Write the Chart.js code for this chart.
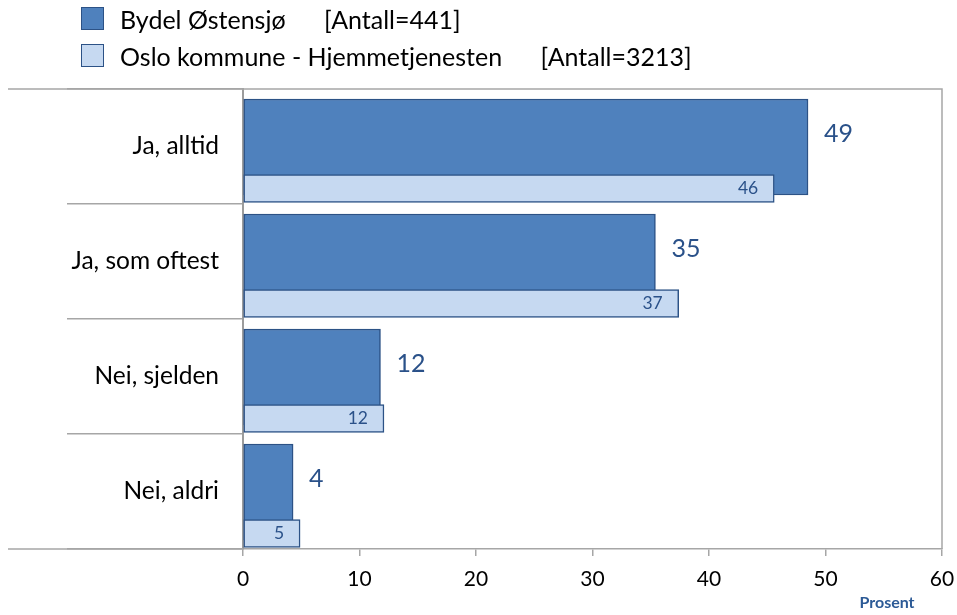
<!DOCTYPE html>
<html>
<head>
<meta charset="utf-8">
<script src="https://cdn.jsdelivr.net/npm/chart.js@4"></script>
<style>
    html, body { margin: 0; padding: 0; background: #fff; }
    #wrap { position: relative; width: 957px; height: 615px; }
    #legend {
        position: absolute; left: 81px; top: 0;
        font-family: Lato, "Open Sans", sans-serif; font-size: 25px; color: #000;
    }
    .item { display: flex; align-items: center; height: 37px; white-space: pre; }
    .box { width: 21px; height: 21px; border: 1px solid #2c5286; margin-right: 16px; flex: none; }
</style>
</head>
<body>
<div id="wrap">
    <canvas id="chart" width="957" height="615"></canvas>
    <div id="legend"></div>
</div>
<script>
// Categories (top to bottom)
const categories = ['Ja, alltid', 'Ja, som oftest', 'Nei, sjelden', 'Nei, aldri'];

// Series (percent)
const seriesNames = ['Bydel Østensjø', 'Oslo kommune - Hjemmetjenesten'];
const seriesCounts = [441, 3213];
const ostensjo = [48.5, 35.4, 11.8, 4.3];
const oslo = [45.6, 37.4, 12.1, 4.9];

// X axis ticks
const xTicks = [0, 10, 20, 30, 40, 50, 60];
const xTitle = 'Prosent';

const darkFill = '#4f81bd';
const lightFill = '#c6d9f1';
const barBorder = '#2c5286';
const labelBlue = '#2a5189';
const lineGray = '#a6a6a6';
const fontFamily = 'Lato, "Open Sans", sans-serif';

// Build the HTML legend
const legendEl = document.getElementById('legend');
[darkFill, lightFill].forEach((color, i) => {
    const row = document.createElement('div');
    row.className = 'item';
    const box = document.createElement('span');
    box.className = 'box';
    box.style.background = color;
    const txt = document.createElement('span');
    txt.textContent = `${seriesNames[i]}      [Antall=${seriesCounts[i]}]`;
    row.appendChild(box);
    row.appendChild(txt);
    legendEl.appendChild(row);
});

// Value labels + frame lines
const decorPlugin = {
    id: 'decor',
    afterDraw(chart) {
        const ctx = chart.ctx;
        const area = chart.chartArea;
        const xs = chart.scales.x;
        ctx.save();

        // frame: top, right, bottom lines reaching to the left edge
        ctx.strokeStyle = lineGray;
        ctx.lineWidth = 1.5;
        ctx.beginPath();
        ctx.moveTo(8, area.top);
        ctx.lineTo(area.right, area.top);
        ctx.lineTo(area.right, area.bottom);
        ctx.stroke();
        ctx.beginPath();
        ctx.moveTo(8, area.bottom);
        ctx.lineTo(area.left, area.bottom);
        ctx.stroke();

        // data labels
        chart.data.datasets.forEach((ds, di) => {
            const meta = chart.getDatasetMeta(di);
            meta.data.forEach((bar, i) => {
                const val = Math.round(ds.data[i].x);
                ctx.fillStyle = labelBlue;
                ctx.textBaseline = 'middle';
                if (di === 0) {
                    ctx.font = `25px ${fontFamily}`;
                    ctx.textAlign = 'left';
                    ctx.fillText(val, bar.x + 16, bar.y - 13);
                } else {
                    ctx.font = `17.5px ${fontFamily}`;
                    ctx.textAlign = 'right';
                    ctx.fillText(val, bar.x - 16, bar.y);
                }
            });
        });

        // axis title
        ctx.fillStyle = '#2c5a96';
        ctx.font = `bold 16px ${fontFamily}`;
        ctx.textAlign = 'center';
        ctx.textBaseline = 'middle';
        ctx.fillText(xTitle, xs.getPixelForValue(xs.max) - 55, 603);
        ctx.restore();
    }
};

new Chart(document.getElementById('chart'), {
    type: 'bar',
    data: {
        datasets: [
            {
                label: seriesNames[0],
                data: ostensjo.map((v, i) => ({ x: v, y: i + 0.504 })),
                backgroundColor: darkFill,
                borderColor: barBorder,
                borderWidth: 1.5,
                borderSkipped: false,
                barThickness: 96,
                order: 1
            },
            {
                label: seriesNames[1],
                data: oslo.map((v, i) => ({ x: v, y: i + 0.865 })),
                backgroundColor: lightFill,
                borderColor: barBorder,
                borderWidth: 1.5,
                borderSkipped: false,
                barThickness: 28,
                order: 0
            }
        ]
    },
    options: {
        indexAxis: 'y',
        responsive: false,
        animation: false,
        grouped: false,
        layout: {
            padding: { left: 8, top: 89, right: 15, bottom: 0 }
        },
        plugins: {
            legend: { display: false },
            tooltip: { enabled: false }
        },
        scales: {
            x: {
                type: 'linear',
                min: 0,
                max: 60,
                afterBuildTicks: scale => {
                    scale.ticks = xTicks.map(v => ({ value: v }));
                },
                afterFit: scale => {
                    scale.height = 66;
                    scale.paddingRight = 0;
                    scale.paddingLeft = 0;
                },
                grid: {
                    drawOnChartArea: false,
                    color: lineGray,
                    tickLength: 7,
                    lineWidth: 1.5
                },
                border: { color: lineGray, width: 1.5 },
                ticks: {
                    color: '#000',
                    padding: 11,
                    maxRotation: 0,
                    font: { family: fontFamily, size: 21 }
                }
            },
            y: {
                type: 'linear',
                min: 0,
                max: categories.length,
                reverse: true,
                offset: false,
                afterBuildTicks: scale => {
                    scale.ticks = categories.map((c, i) => ({ value: i + 0.5 }));
                },
                afterFit: scale => { scale.width = 235; },
                grid: {
                    offset: true,
                    drawOnChartArea: false,
                    color: lineGray,
                    tickLength: 176,
                    lineWidth: 1.5
                },
                border: { color: '#9c9c9c', width: 2 },
                ticks: {
                    color: '#000',
                    padding: -152,
                    autoSkip: false,
                    font: { family: fontFamily, size: 24.5 },
                    callback: (value, index) => categories[index]
                }
            }
        }
    },
    plugins: [decorPlugin]
});
</script>
</body>
</html>
